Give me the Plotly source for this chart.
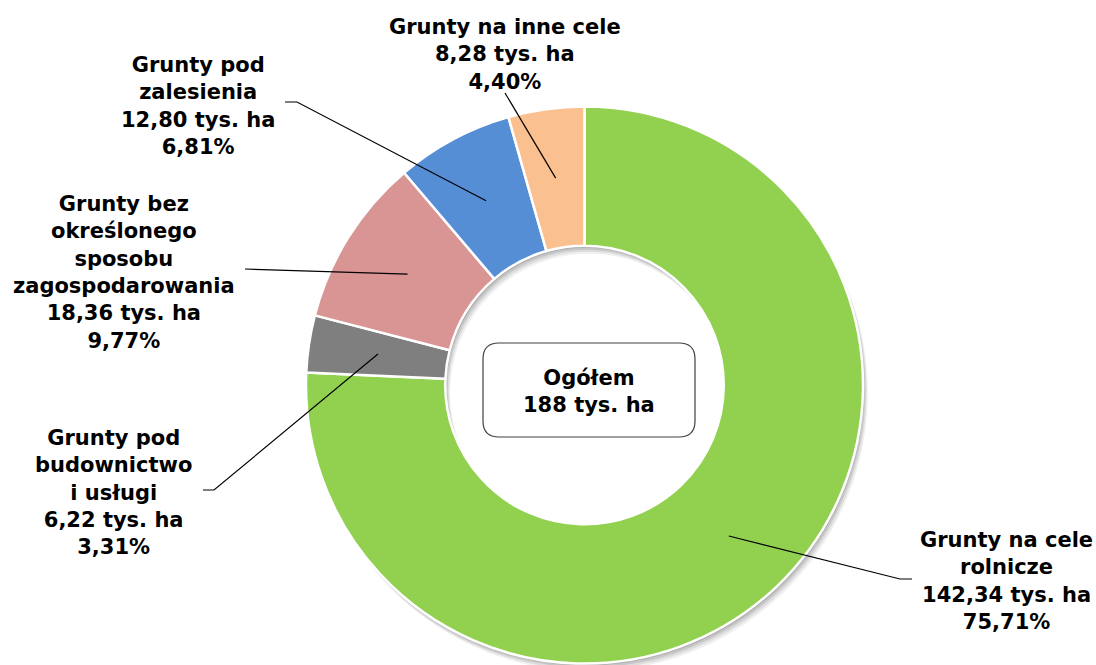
import math
import plotly.graph_objects as go

# ---- data ----
categories = ["Grunty na cele rolnicze", "Grunty pod budownictwo i usługi",
              "Grunty bez określonego sposobu zagospodarowania",
              "Grunty pod zalesienia", "Grunty na inne cele"]
values = [142.34, 6.22, 18.36, 12.80, 8.28]
percents = ["75,71%", "3,31%", "9,77%", "6,81%", "4,40%"]
value_labels = ["142,34 tys. ha", "6,22 tys. ha", "18,36 tys. ha", "12,80 tys. ha", "8,28 tys. ha"]
name_lines = [["Grunty na cele", "rolnicze"],
              ["Grunty pod", "budownictwo", "i usługi"],
              ["Grunty bez", "określonego", "sposobu", "zagospodarowania"],
              ["Grunty pod", "zalesienia"],
              ["Grunty na inne cele"]]
colors = ["#92D050", "#7F7F7F", "#D99594", "#558ED5", "#FAC090"]
total_label = "Ogółem<br>188 tys. ha"

W, H = 1096, 665
CX, CY, R = 584.5, 385.0, 278.5
HOLE = 0.5
FONT = "Verdana, DejaVu Sans, sans-serif"
FS = 21


def px_x(x):
    return x / W


def px_y(y):
    return 1 - y / H


def P(x, y):
    return f"{px_x(x)},{px_y(y)}"


def domain_for(cx, cy, r):
    return dict(x=[(cx - r) / W, (cx + r) / W], y=[1 - (cy + r) / H, 1 - (cy - r) / H])


fig = go.Figure()

# soft shadow rings (below the pie)
r_mid = R * (1 + HOLE) / 2
ring_w = R * (1 - HOLE)
for off, op in [(8, 0.06), (6, 0.08), (4, 0.10), (2, 0.12)]:
    cx, cy = CX + off * 0.6, CY + off
    fig.add_shape(type="circle", xref="paper", yref="paper", layer="below",
                  x0=px_x(cx - r_mid), x1=px_x(cx + r_mid),
                  y0=px_y(cy + r_mid), y1=px_y(cy - r_mid),
                  line=dict(color=f"rgba(0,0,0,{op})", width=ring_w))

fig.add_trace(go.Pie(labels=categories, values=values, hole=HOLE, sort=False,
                     direction="clockwise", rotation=0, textinfo="none",
                     marker=dict(colors=colors, line=dict(color="white", width=2.5)),
                     domain=domain_for(CX, CY, R), showlegend=False))

# label anchor positions (px): center x, center y, leader start points
label_pos = [
    dict(x=1006, y=581, pts=[(912, 579), (900, 579)]),
    dict(x=113, y=492, pts=[(203, 490), (214, 490)]),
    dict(x=124.5, y=272, pts=[(245, 269)]),
    dict(x=197.5, y=106, pts=[(285, 102), (297, 102)]),
    dict(x=505, y=54, pts=[(505, 93)]),
]

total = sum(values)
cum = 0.0
for i, v in enumerate(values):
    mid = (cum + v / 2) / total
    cum += v
    ang = 2 * math.pi * mid
    sx = CX + r_mid * math.sin(ang)
    sy = CY - r_mid * math.cos(ang)
    lp = label_pos[i]
    text = "<br>".join(name_lines[i] + [value_labels[i], percents[i]])
    fig.add_annotation(x=px_x(lp["x"]), y=px_y(lp["y"]), xref="paper", yref="paper",
                       text=f"<b>{text}</b>", showarrow=False, xanchor="center",
                       yanchor="middle", align="center",
                       font=dict(family=FONT, size=FS, color="black"))
    pts = lp["pts"] + [(sx, sy)]
    path = "M " + " L ".join(P(x, y) for x, y in pts)
    fig.add_shape(type="path", path=path, xref="paper", yref="paper",
                  line=dict(color="black", width=1.2))

# center rounded box
x0, y0, x1, y1, rr = 483, 343, 695, 437, 16
box = (f"M {P(x0 + rr, y0)} L {P(x1 - rr, y0)} Q {P(x1, y0)} {P(x1, y0 + rr)} "
       f"L {P(x1, y1 - rr)} Q {P(x1, y1)} {P(x1 - rr, y1)} L {P(x0 + rr, y1)} "
       f"Q {P(x0, y1)} {P(x0, y1 - rr)} L {P(x0, y0 + rr)} Q {P(x0, y0)} {P(x0 + rr, y0)} Z")
fig.add_shape(type="path", path=box, xref="paper", yref="paper",
              line=dict(color="#404040", width=1.2), fillcolor="white")
fig.add_annotation(x=px_x((x0 + x1) / 2), y=px_y((y0 + y1) / 2 + 2), xref="paper", yref="paper",
                   text=f"<b>{total_label}</b>", showarrow=False, xanchor="center",
                   yanchor="middle", align="center",
                   font=dict(family=FONT, size=FS, color="black"))

fig.update_layout(width=W, height=H, margin=dict(l=0, r=0, t=0, b=0),
                  paper_bgcolor="white", plot_bgcolor="white")
fig.write_html("out.html", config={"displayModeBar": False},
               post_script="document.body.style.margin='0';document.body.style.overflow='hidden';")
